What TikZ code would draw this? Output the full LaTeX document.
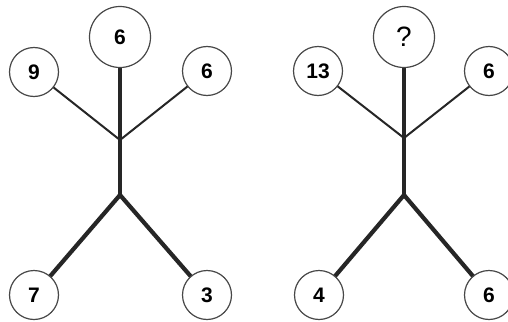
\documentclass[tikz,border=0pt]{standalone}
\usepackage{fontspec}
\setmainfont{Liberation Sans}
\begin{document}
\begin{tikzpicture}[x=1pt,y=-1pt,
  ball/.style={circle,draw=black!72,line width=1.2pt,fill=white,inner sep=0pt,
    minimum size=49pt,font=\fontsize{21}{21}\selectfont\bfseries},
  bigball/.style={ball,minimum size=61pt},
  arm/.style={line width=2pt,black!85},
  limb/.style={line width=4.2pt,black!85}]
\useasboundingbox (0,0) rectangle (508,321);
% first figure
\begin{scope}
  \coordinate (ja) at (120,140);
  \coordinate (jb) at (120,195);
  \draw[limb] (120,60) -- (jb);
  \draw[arm] (ja) -- (34,72);
  \draw[arm] (ja) -- (207,71);
  \draw[limb] (jb) -- (34,295);
  \draw[limb] (jb) -- (207,295);
  \node[bigball] (ta) at (120,37) {6};
  \node[ball] (la) at (34,72) {9};
  \node[ball] (ra) at (207,71) {6};
  \node[ball] (bla) at (34,295) {7};
  \node[ball] (bra) at (207,295) {3};
\end{scope}
% second figure
\begin{scope}
  \coordinate (jc) at (404,138);
  \coordinate (jd) at (404,195);
  \draw[limb] (404,60) -- (jd);
  \draw[arm] (jc) -- (318,71);
  \draw[arm] (jc) -- (489,71);
  \draw[limb] (jd) -- (319,295);
  \draw[limb] (jd) -- (489,295);
  \node[bigball,font=\fontsize{28}{28}\selectfont] (tb) at (404,37) {?};
  \node[ball] (lb) at (318,71) {13};
  \node[ball] (rb) at (489,71) {6};
  \node[ball] (blb) at (319,295) {4};
  \node[ball] (brb) at (489,295) {6};
\end{scope}
\end{tikzpicture}
\end{document}
